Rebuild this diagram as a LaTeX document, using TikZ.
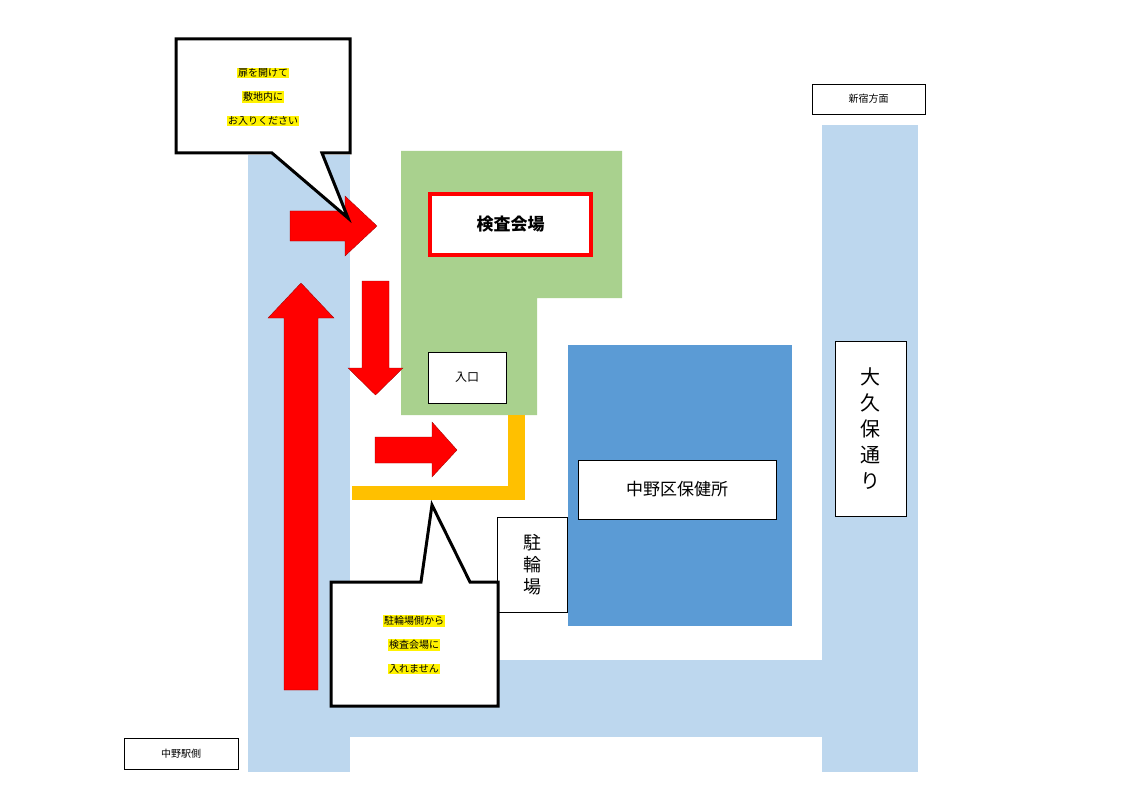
\documentclass[tikz,border=0pt]{standalone}
\usepackage{fontspec}
\setmainfont{Noto Sans CJK JP}
\definecolor{road}{HTML}{BDD7EE}
\definecolor{grn}{HTML}{A9D18E}
\definecolor{bld}{HTML}{5B9BD5}
\definecolor{org}{HTML}{FFC000}
\tikzset{
 lbl/.style={draw=black,fill=white,line width=0.6pt,inner sep=0pt,align=center},
 rarrow/.style={fill=red,draw=black!40!red,line width=0.3pt},
 callout/.style={draw=black,fill=white,line width=3pt,line join=miter},
 hl/.style={fill=yellow,inner sep=1pt,font=\fontsize{10}{12}\selectfont}
}
\begin{document}
\begin{tikzpicture}[x=1pt,y=-1pt]
\useasboundingbox (0,0) rectangle (1123,794);
% roads
\fill[road] (248,155) rectangle (350,772);
\fill[road] (822,125) rectangle (918,772);
\fill[road] (350,660) rectangle (822,737);
% green site
\fill[grn] (401,151) -- (622,151) -- (622,298) -- (537,298) -- (537,415) -- (401,415) -- cycle;
% orange path
\fill[org] (508,415) rectangle (525,500);
\fill[org] (352,486) rectangle (525,500);
% building
\fill[bld] (568,345) rectangle (792,626);
% labels
\node[draw=red,fill=white,line width=3.5pt,minimum width=161pt,minimum height=61pt,font=\fontsize{17}{20}\selectfont\bfseries] (venue) at (510.5,224.5) {検査会場};
\node[lbl,minimum width=78pt,minimum height=51pt,font=\fontsize{12}{14}\selectfont] (entr) at (467,377.5) {入口};
\node[lbl,minimum width=198pt,minimum height=59pt,font=\fontsize{17}{20}\selectfont] (hc) at (677,489.5) {中野区保健所};
\node[lbl,minimum width=70pt,minimum height=95pt,font=\fontsize{18}{22}\selectfont] (bike) at (532,564.5) {駐\\輪\\場};
\node[lbl,minimum width=71pt,minimum height=175pt,font=\fontsize{20}{26}\selectfont] (okubo) at (870.5,428.5) {大\\久\\保\\通\\り};
\node[lbl,minimum width=113pt,minimum height=30pt,font=\fontsize{10}{12}\selectfont] (shinjuku) at (868.5,99) {新宿方面};
\node[lbl,minimum width=114pt,minimum height=31pt,font=\fontsize{10}{12}\selectfont] (nakano) at (181,753.5) {中野駅側};
% red arrows
\draw[rarrow] (290,211) -- (345,211) -- (345,196) -- (377,226) -- (345,256) -- (345,241) -- (290,241) -- cycle;
\draw[rarrow] (284,690) -- (284,318) -- (268,318) -- (301,283) -- (334,318) -- (318,318) -- (318,690) -- cycle;
\draw[rarrow] (362,281) -- (389,281) -- (389,368) -- (403,368) -- (375.5,395) -- (348,368) -- (362,368) -- cycle;
\draw[rarrow] (375,437) -- (432,437) -- (432,422) -- (457,450) -- (432,477) -- (432,463) -- (375,463) -- cycle;
% callouts
\draw[callout] (176,39) -- (350,39) -- (350,153) -- (322,153) -- (348,218) -- (272,153) -- (176,153) -- cycle;
\node[hl] (c1a) at (263,73) {扉を開けて};
\node[hl] (c1b) at (263,97) {敷地内に};
\node[hl] (c1c) at (263,121) {お入りください};
\draw[callout] (331,582) -- (421,582) -- (432,505) -- (470,582) -- (498,582) -- (498,706) -- (331,706) -- cycle;
\node[hl] (c2a) at (414,621) {駐輪場側から};
\node[hl] (c2b) at (414,645) {検査会場に};
\node[hl] (c2c) at (414,669) {入れません};
\end{tikzpicture}
\end{document}
